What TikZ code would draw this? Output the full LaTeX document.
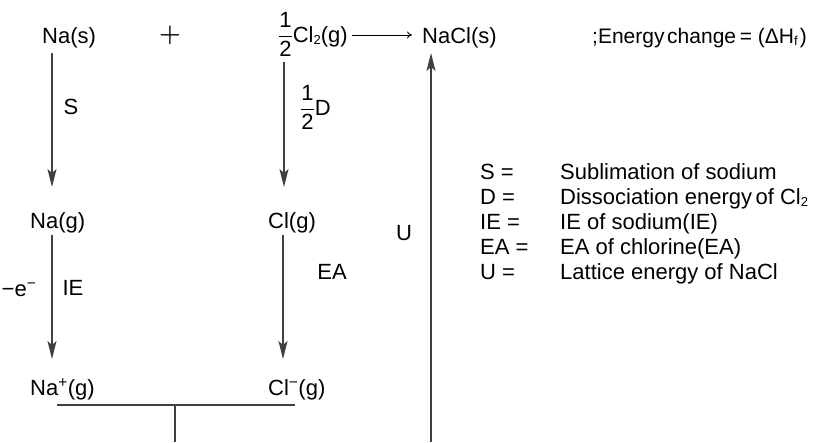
\documentclass[tikz,border=0pt]{standalone}
\usepackage{amsmath}
\usepackage{fontspec}
\setmainfont{Liberation Sans}
\usetikzlibrary{arrows.meta}
% text-size one-half fraction
\newcommand{\halffrac}{\ensuremath{\genfrac{}{}{0.7pt}{0}{\text{1}}{\text{2}}}}
\newcommand{\smallsub}[1]{\raisebox{-0.25ex}{\fontsize{13}{15}\selectfont #1}}
\begin{document}
\begin{tikzpicture}[x=1pt,y=-1pt,
  lbl/.style={inner sep=0pt,anchor=base west,font=\fontsize{22}{26}\selectfont},
  clbl/.style={inner sep=0pt,anchor=center,font=\fontsize{22}{26}\selectfont},
  conn/.style={line width=1.1pt,draw=black!75},
  arr/.style={conn,-{Stealth[length=18pt,width=9pt,inset=4pt]}},
  rxn/.style={line width=0.9pt,-{To[length=5pt,width=7pt]}}]
\useasboundingbox (0,0) rectangle (813,442);

% species of the cycle
\node[lbl] (nas) at (42,43) {Na(s)};
\node[clbl,font=\fontsize{28}{30}\selectfont] (plus) at (170,35) {$\boldsymbol{+}$};
\node[lbl] (cl2) at (278,42) {\halffrac Cl\smallsub{2}(g)};
\node[lbl] (nacl) at (422,43) {NaCl(s)};
\node[lbl,font=\fontsize{21}{25}\selectfont] (eh) at (592,43)
  {;Energy\hspace{-0.15em} change\hspace{-0.1em} = (ΔH\smallsub{f}\hspace{0.1em})};
\node[lbl] (nag) at (30,228) {Na(g)};
\node[lbl] (clg) at (268,228) {Cl(g)};
\node[lbl] (nap) at (30,395) {Na\textsuperscript{+}(g)};
\node[lbl] (clm) at (268,395) {Cl\textsuperscript{−}(g)};

% step labels
\node[clbl] (ls) at (71,107) {S};
\node[lbl] (ld) at (300,115) {\halffrac D};
\node[clbl] (lu) at (404,233) {U};
\node[clbl] (le) at (19,290) {−e\textsuperscript{−}};
\node[clbl] (lie) at (73,288) {IE};
\node[clbl] (lea) at (332,272) {EA};

% overall reaction arrow
\coordinate (r1) at (352,35);
\coordinate (r2) at (412,35);
\draw[rxn] (r1) -- (r2);

% vertical steps
\coordinate (s1) at (52,53);  \coordinate (s2) at (52,187);
\coordinate (i1) at (52,235); \coordinate (i2) at (52,359);
\coordinate (d1) at (284,62); \coordinate (d2) at (284,187);
\coordinate (e1) at (283,235); \coordinate (e2) at (283,359);
\draw[arr] (s1) -- (s2);
\draw[arr] (i1) -- (i2);
\draw[arr] (d1) -- (d2);
\draw[arr] (e1) -- (e2);

% ions combining into the lattice
\coordinate (jl) at (57,405);
\coordinate (jr) at (295,405);
\coordinate (jm) at (175,405);
\coordinate (jb) at (175,442);
\draw[conn] (jl) -- (jr);
\draw[conn] (jm) -- (jb);
\coordinate (u1) at (431,442);
\coordinate (u2) at (431,53);
\draw[arr] (u1) -- (u2);

% legend
\node[lbl] (k1) at (480,179) {S =};
\node[lbl] (v1) at (560,179) {Sublimation of sodium};
\node[lbl] (k2) at (480,204) {D =};
\node[lbl] (v2) at (560,204) {Dissociation energy\hspace{-0.12em} of Cl\smallsub{2}};
\node[lbl] (k3) at (480,229) {IE =};
\node[lbl] (v3) at (560,229) {IE of sodium(IE)};
\node[lbl] (k4) at (480,254) {EA =};
\node[lbl] (v4) at (560,254) {EA of chlorine(EA)};
\node[lbl] (k5) at (480,279) {U =};
\node[lbl] (v5) at (560,279) {Lattice energy of NaCl};
\end{tikzpicture}
\end{document}
